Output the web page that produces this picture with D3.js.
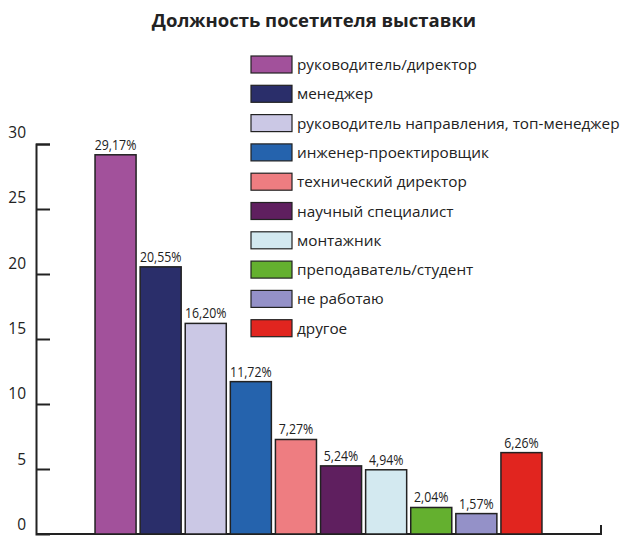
<!DOCTYPE html>
<html lang="ru">
<head>
<meta charset="UTF-8">
<title>Должность посетителя выставки</title>
<script src="https://cdn.jsdelivr.net/npm/d3@7"></script>
<style>
  body { margin: 0; background: #fff; }
  text { fill: #222; }
</style>
</head>
<body>
<svg id="chart" width="628" height="554"></svg>
<script>
// data
var categories = [
    "руководитель/директор",
    "менеджер",
    "руководитель направления, топ-менеджер",
    "инженер-проектировщик",
    "технический директор",
    "научный специалист",
    "монтажник",
    "преподаватель/студент",
    "не работаю",
    "другое"
];
var values = [29.17, 20.55, 16.20, 11.72, 7.27, 5.24, 4.94, 2.04, 1.57, 6.26];
var colors = ["#a2519b", "#2a2e6a", "#cbc8e5", "#2563ad", "#ee7d81",
              "#5f1f5f", "#d3e9f0", "#64b02f", "#9491c8", "#e1251f"];
var yTicks = [0, 5, 10, 15, 20, 25, 30];

var svg = d3.select("#chart");

var x = d3.scaleBand()
    .domain(categories)
    .range([93, 544])
    .paddingInner(0.09)
    .paddingOuter(0.045);

var y = d3.scaleLinear()
    .domain([0, 30])
    .range([534, 144]);

var color = d3.scaleOrdinal().domain(categories).range(colors);

// title
svg.append("text")
    .attr("x", 314)
    .attr("y", 27)
    .attr("text-anchor", "middle")
    .style("font-family", "'Open Sans', sans-serif")
    .style("font-weight", "bold")
    .style("font-size", "18.5px")
    .text("Должность посетителя выставки");

// y axis
var yAxis = svg.append("g")
    .attr("transform", "translate(36,0)")
    .call(d3.axisRight(y).tickValues(yTicks).tickSize(14).tickFormat(d3.format("d")));
yAxis.select(".domain").attr("stroke", "#222").attr("stroke-width", 2);
yAxis.selectAll(".tick line").attr("stroke", "#222").attr("stroke-width", 2)
    .filter(function (d) { return d === 0; }).remove();
yAxis.selectAll(".tick text")
    .attr("x", -10)
    .attr("dy", function (d) { return (-d / 5 * 0.33 - 4.5) + "px"; })
    .attr("text-anchor", "end")
    .style("font-family", "'Open Sans', sans-serif")
    .style("font-size", "15.5px")
    .style("fill", "#222");

// baseline
svg.append("path")
    .attr("d", d3.line()([[36, y(0)], [601, y(0)], [601, y(0) - 9]]))
    .attr("fill", "none")
    .attr("stroke", "#222")
    .attr("stroke-width", 2);

// bars
svg.append("g").selectAll("rect")
    .data(values)
    .join("rect")
    .attr("x", function (d, i) { return x(categories[i]); })
    .attr("y", function (d) { return y(d); })
    .attr("width", x.bandwidth())
    .attr("height", function (d) { return y(0) - y(d); })
    .attr("fill", function (d, i) { return color(categories[i]); })
    .attr("stroke", "#222")
    .attr("stroke-width", 1.5);

// value labels (narrow, like the original condensed font)
svg.append("g").selectAll("text")
    .data(values)
    .join("text")
    .attr("transform", function (d, i) {
        return "translate(" + (x(categories[i]) + x.bandwidth() / 2) + "," + (y(d) - 5) + ") scale(0.85,1)";
    })
    .attr("text-anchor", "middle")
    .style("font-family", "'Open Sans', sans-serif")
    .style("font-size", "14.5px")
    .text(function (d) { return d3.format(".2f")(d).replace(".", ",") + "%"; });

// legend
var legend = svg.append("g").selectAll("g")
    .data(categories)
    .join("g")
    .attr("transform", function (d, i) { return "translate(251," + (56 + i * 29.3) + ")"; });

legend.append("rect")
    .attr("width", 41)
    .attr("height", 17)
    .attr("fill", function (d) { return color(d); })
    .attr("stroke", "#222")
    .attr("stroke-width", 1.2);

legend.append("text")
    .attr("x", 46)
    .attr("y", 14)
    .style("font-family", "'Open Sans', sans-serif")
    .style("font-size", "15.3px")
    .text(function (d) { return d; });
</script>
</body>
</html>
